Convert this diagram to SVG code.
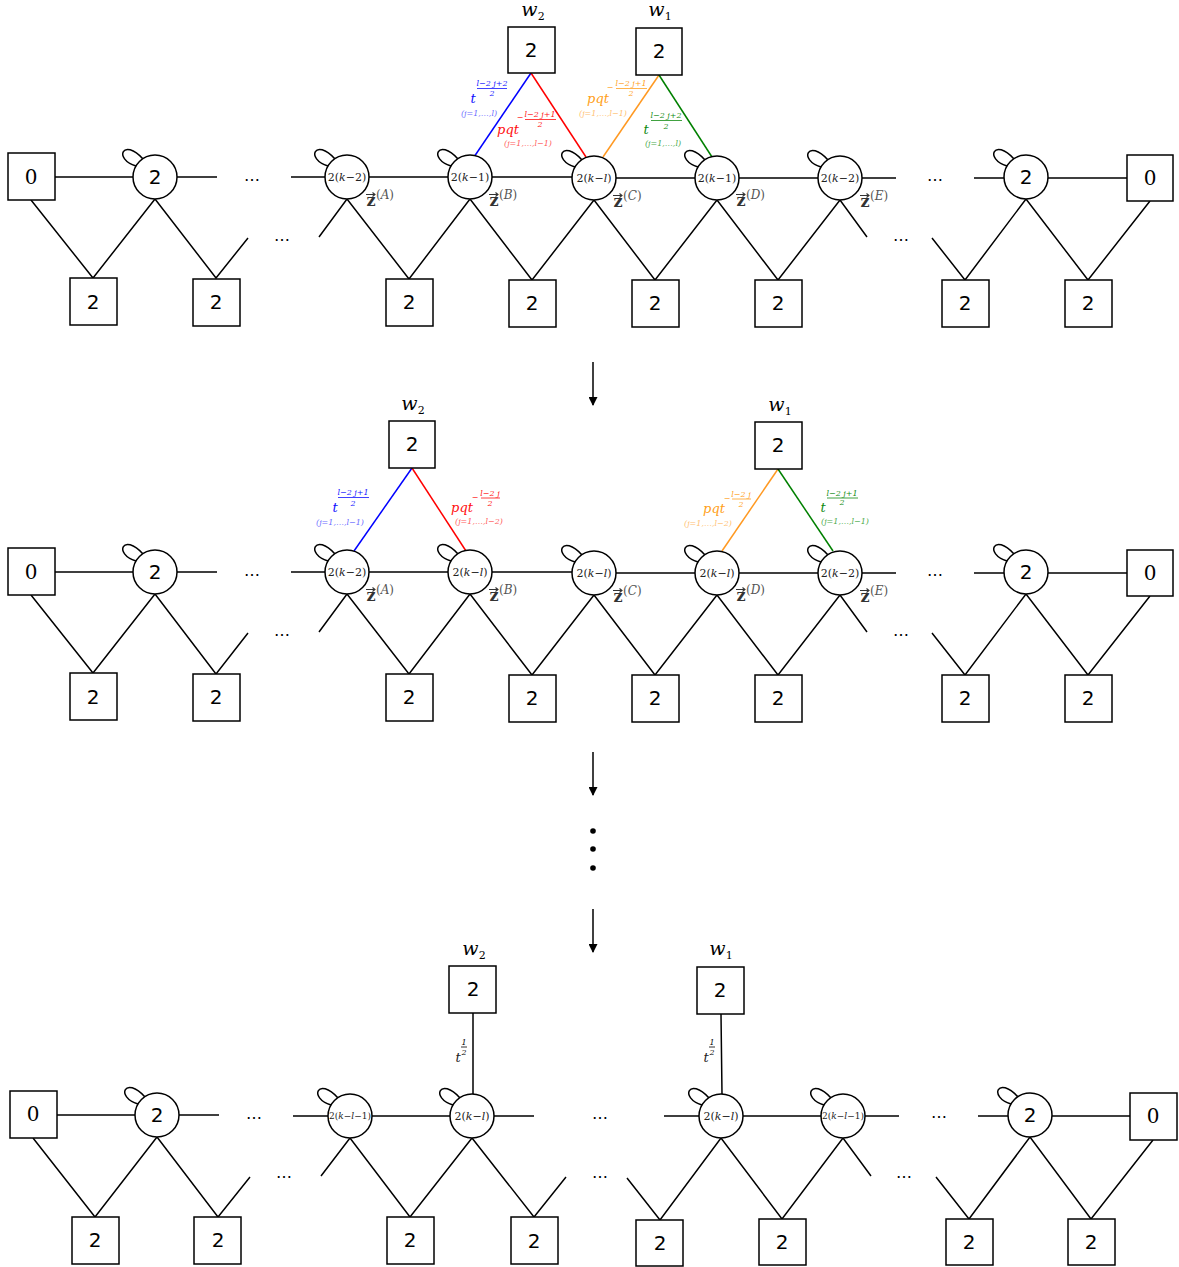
<svg xmlns="http://www.w3.org/2000/svg" width="1179" height="1267" viewBox="0 0 1179 1267">
<style>
.bx{fill:#fff;stroke:#000;stroke-width:1.5}
.ci{fill:#fff;stroke:#000;stroke-width:1.5}
.lp{fill:none;stroke:#000;stroke-width:1.5}
.ln{stroke:#000;stroke-width:1.5;fill:none}
.big{font-family:"DejaVu Sans",sans-serif;font-size:20px;text-anchor:middle;dominant-baseline:central}
.zero{font-family:"DejaVu Serif",serif;font-size:20px;text-anchor:middle;dominant-baseline:central}
.nl{font-family:"DejaVu Serif",serif;font-size:11px;text-anchor:middle;dominant-baseline:central;fill:#222}
.nls{font-family:"DejaVu Serif",serif;font-size:9px;text-anchor:middle;dominant-baseline:central;fill:#222}
.it{font-style:italic}
.w{font-family:"DejaVu Serif",serif;font-size:19px;font-style:italic;text-anchor:middle}
.sub{font-size:11px;font-style:normal}
.dots{font-family:"DejaVu Sans",sans-serif;font-size:16px;text-anchor:middle;dominant-baseline:central}
.z{font-family:"DejaVu Serif",serif;font-size:16px;font-weight:bold;text-anchor:middle;fill:#333}
.zs{font-family:"DejaVu Serif",serif;font-size:12px;fill:#555}
.za{stroke:#333;stroke-width:1.1;fill:none}
.lt{font-family:"DejaVu Serif",serif;font-size:13px;font-style:italic;text-anchor:middle}
.fr{font-family:"DejaVu Serif",serif;font-size:8px;font-style:italic;text-anchor:middle}
.sm{font-family:"DejaVu Serif",serif;font-size:8px;font-style:italic;text-anchor:middle}
.blue{fill:#1010ff}.blueL{fill:#6a6aff}
.red{fill:#ff1010}.redL{fill:#ff5a5a}
.org{fill:#ffa020}.orgL{fill:#ffc070}
.grn{fill:#108a10}.grnL{fill:#4aaa4a}
</style>
<defs>
<marker id="ah" viewBox="0 0 10 10" refX="9" refY="5" markerUnits="userSpaceOnUse" markerWidth="11" markerHeight="9" orient="auto"><path d="M0,0 L10,5 L0,10 z" fill="#000"/></marker>
</defs>

<!-- ================= connectors ================= -->
<g id="connectors">
<!-- panel 1 -->
<path class="ln" d="M55,177 H133 M177,177 H217 M291,177 H325 M369,177 H448 M492,177 H572 M616,178 H695 M739,178 H818 M862,178 H896 M974,178 H1004 M1048,178 H1127"/>
<path class="ln" d="M31,200 L93,278 L155,199 L216,278 L248,238 M319,237 L347,199 L409,279 L470,199 L532,280 L594,200 L655,280 L717,200 L778,280 L840,200 L867,237 M932,238 L965,280 L1026,199 L1088,280 L1150,201"/>
<path d="M531,73 L474,157" stroke="#0000ff" stroke-width="1.5"/>
<path d="M531,73 L586,157" stroke="#ff0000" stroke-width="1.5"/>
<path d="M659,75 L603,157" stroke="#ff9922" stroke-width="1.5"/>
<path d="M659,75 L712,157" stroke="#008000" stroke-width="1.5"/>
<!-- panel 2 -->
<path class="ln" d="M55,572 H133 M177,572 H217 M291,572 H325 M369,572 H448 M492,572 H572 M616,573 H695 M739,573 H818 M862,573 H896 M974,573 H1004 M1048,573 H1127"/>
<path class="ln" d="M31,595 L93,673 L155,594 L216,674 L248,633 M319,632 L347,594 L409,674 L470,594 L532,675 L594,595 L655,675 L717,595 L778,675 L840,595 L867,632 M932,633 L965,675 L1026,594 L1088,675 L1150,596"/>
<path d="M412,468 L354,551" stroke="#0000ff" stroke-width="1.5"/>
<path d="M412,468 L466,551" stroke="#ff0000" stroke-width="1.5"/>
<path d="M778,469 L722,551" stroke="#ff9922" stroke-width="1.5"/>
<path d="M778,469 L833,551" stroke="#008000" stroke-width="1.5"/>
<!-- panel 3 -->
<path class="ln" d="M57,1115 H135 M179,1115 H219 M293,1116 H328 M372,1116 H450 M494,1116 H534 M664,1116 H699 M743,1116 H821 M865,1116 H899 M978,1116 H1008 M1052,1116 H1130"/>
<path class="ln" d="M33,1138 L95,1217 L157,1137 L218,1217 L250,1177 M321,1176 L350,1138 L410,1217 L472,1138 L534,1217 L566,1177 M627,1178 L660,1220 L721,1138 L782,1219 L843,1138 L871,1176 M936,1177 L969,1219 L1030,1137 L1091,1219 L1153,1140"/>
<path class="ln" d="M473,1013 L473,1094 M721,1014 L722,1094"/>
<!-- transition arrows -->
<path class="ln" d="M593,362 V405" stroke-width="2.2" marker-end="url(#ah)"/>
<path class="ln" d="M593,752 V795" stroke-width="2.2" marker-end="url(#ah)"/>
<path class="ln" d="M593,909 V952" stroke-width="2.2" marker-end="url(#ah)"/>
</g>

<circle cx="593" cy="831" r="2.8" fill="#000"/>
<circle cx="593" cy="849" r="2.8" fill="#000"/>
<circle cx="593" cy="868" r="2.8" fill="#000"/>

<!-- ================= panel 1 nodes ================= -->
<g id="p1-left0"><rect class="bx" x="8" y="153" width="47" height="47"/><text class="zero" x="31" y="177">0</text></g>
<g id="p1-c1"><path class="lp" d="M136,166 C113,159 123,137 143,159"/><circle class="ci" cx="155" cy="177" r="22"/><text class="big" x="155" y="177">2</text></g>
<text class="dots" x="252" y="175">…</text>
<text class="dots" x="282" y="235">…</text>
<g id="p1-A"><path class="lp" d="M328,166 C305,159 315,137 335,159"/><circle class="ci" cx="347" cy="177" r="22"/><text class="nl" x="347" y="177">2(<tspan class="it">k</tspan>−2)</text>
<path class="za" d="M366,194.5 h9 m-2.5,-2 l2.5,2 l-2.5,2"/><text class="z" x="371" y="206">z</text><text class="zs" x="376" y="199">(<tspan class="it">A</tspan>)</text></g>
<g id="p1-B"><path class="lp" d="M451,166 C428,159 438,137 458,159"/><circle class="ci" cx="470" cy="177" r="22"/><text class="nl" x="470" y="177">2(<tspan class="it">k</tspan>−1)</text>
<path class="za" d="M489,194.5 h9 m-2.5,-2 l2.5,2 l-2.5,2"/><text class="z" x="494" y="206">z</text><text class="zs" x="499" y="199">(<tspan class="it">B</tspan>)</text></g>
<g id="p1-C"><path class="lp" d="M575,167 C552,160 562,138 582,160"/><circle class="ci" cx="594" cy="178" r="22"/><text class="nl" x="594" y="178">2(<tspan class="it">k</tspan>−<tspan class="it">l</tspan>)</text>
<path class="za" d="M613,195.5 h9 m-2.5,-2 l2.5,2 l-2.5,2"/><text class="z" x="618" y="207">z</text><text class="zs" x="623" y="200">(<tspan class="it">C</tspan>)</text></g>
<g id="p1-D"><path class="lp" d="M698,167 C675,160 685,138 705,160"/><circle class="ci" cx="717" cy="178" r="22"/><text class="nl" x="717" y="178">2(<tspan class="it">k</tspan>−1)</text>
<path class="za" d="M736,194.5 h9 m-2.5,-2 l2.5,2 l-2.5,2"/><text class="z" x="741" y="206">z</text><text class="zs" x="746" y="199">(<tspan class="it">D</tspan>)</text></g>
<g id="p1-E"><path class="lp" d="M821,167 C798,160 808,138 828,160"/><circle class="ci" cx="840" cy="178" r="22"/><text class="nl" x="840" y="178">2(<tspan class="it">k</tspan>−2)</text>
<path class="za" d="M860,195.5 h9 m-2.5,-2 l2.5,2 l-2.5,2"/><text class="z" x="865" y="207">z</text><text class="zs" x="870" y="200">(<tspan class="it">E</tspan>)</text></g>
<text class="dots" x="935" y="175">…</text>
<text class="dots" x="901" y="235">…</text>
<g id="p1-c2"><path class="lp" d="M1007,166 C984,159 994,137 1014,159"/><circle class="ci" cx="1026" cy="177" r="22"/><text class="big" x="1026" y="177">2</text></g>
<g id="p1-right0"><rect class="bx" x="1127" y="155" width="46" height="46"/><text class="zero" x="1150" y="178">0</text></g>
<g id="p1-b1"><rect class="bx" x="70" y="278" width="47" height="47"/><text class="big" x="93" y="302">2</text></g>
<g id="p1-b2"><rect class="bx" x="193" y="279" width="47" height="47"/><text class="big" x="216" y="302">2</text></g>
<g id="p1-b3"><rect class="bx" x="386" y="279" width="47" height="47"/><text class="big" x="409" y="302">2</text></g>
<g id="p1-b4"><rect class="bx" x="509" y="280" width="47" height="47"/><text class="big" x="532" y="303">2</text></g>
<g id="p1-b5"><rect class="bx" x="632" y="280" width="47" height="47"/><text class="big" x="655" y="303">2</text></g>
<g id="p1-b6"><rect class="bx" x="755" y="280" width="47" height="47"/><text class="big" x="778" y="303">2</text></g>
<g id="p1-b7"><rect class="bx" x="942" y="280" width="47" height="47"/><text class="big" x="965" y="303">2</text></g>
<g id="p1-b8"><rect class="bx" x="1065" y="280" width="47" height="47"/><text class="big" x="1088" y="303">2</text></g>
<g id="p1-w2"><rect class="bx" x="508" y="27" width="47" height="46"/><text class="big" x="531" y="50">2</text><text class="w" x="533" y="16">w<tspan class="sub" dy="4">2</tspan></text></g>
<g id="p1-w1"><rect class="bx" x="636" y="28" width="46" height="47"/><text class="big" x="659" y="51">2</text><text class="w" x="660" y="16">w<tspan class="sub" dy="4">1</tspan></text></g>

<!-- panel 1 edge labels -->
<g id="p1-lbl-blue">
<text class="lt blue" x="473" y="103">t</text>
<text class="fr blue" x="492" y="86">l−2 j+2</text><path d="M477,88.5 H507" stroke="#1010ff" stroke-width="0.8"/><text class="fr blue" x="492" y="96" font-style="normal">2</text>
<text class="sm blueL" x="479" y="116">(j=1,…,l)</text>
</g>
<g id="p1-lbl-red">
<text class="lt red" x="508" y="134">pqt</text>
<text class="fr red" x="520" y="120" font-style="normal">−</text>
<text class="fr red" x="540" y="117">l−2 j+1</text><path d="M525,119.5 H556" stroke="#ff1010" stroke-width="0.8"/><text class="fr red" x="540" y="127" font-style="normal">2</text>
<text class="sm redL" x="528" y="146">(j=1,…,l−1)</text>
</g>
<g id="p1-lbl-org">
<text class="lt org" x="598" y="103">pqt</text>
<text class="fr org" x="610" y="90" font-style="normal">−</text>
<text class="fr org" x="631" y="86">l−2 j+1</text><path d="M616,88.5 H647" stroke="#ffa020" stroke-width="0.8"/><text class="fr org" x="631" y="96" font-style="normal">2</text>
<text class="sm orgL" x="603" y="116">(j=1,…,l−1)</text>
</g>
<g id="p1-lbl-grn">
<text class="lt grn" x="646" y="134">t</text>
<text class="fr grn" x="666" y="118">l−2 j+2</text><path d="M651,120.5 H682" stroke="#108a10" stroke-width="0.8"/><text class="fr grn" x="666" y="129" font-style="normal">2</text>
<text class="sm grnL" x="663" y="146">(j=1,…,l)</text>
</g>

<!-- ================= panel 2 nodes ================= -->
<g id="p2-left0"><rect class="bx" x="8" y="548" width="47" height="47"/><text class="zero" x="31" y="572">0</text></g>
<g id="p2-c1"><path class="lp" d="M136,561 C113,554 123,532 143,554"/><circle class="ci" cx="155" cy="572" r="22"/><text class="big" x="155" y="572">2</text></g>
<text class="dots" x="252" y="570">…</text>
<text class="dots" x="282" y="630">…</text>
<g id="p2-A"><path class="lp" d="M328,561 C305,554 315,532 335,554"/><circle class="ci" cx="347" cy="572" r="22"/><text class="nl" x="347" y="572">2(<tspan class="it">k</tspan>−2)</text>
<path class="za" d="M366,589.5 h9 m-2.5,-2 l2.5,2 l-2.5,2"/><text class="z" x="371" y="601">z</text><text class="zs" x="376" y="594">(<tspan class="it">A</tspan>)</text></g>
<g id="p2-B"><path class="lp" d="M451,561 C428,554 438,532 458,554"/><circle class="ci" cx="470" cy="572" r="22"/><text class="nl" x="470" y="572">2(<tspan class="it">k</tspan>−<tspan class="it">l</tspan>)</text>
<path class="za" d="M489,589.5 h9 m-2.5,-2 l2.5,2 l-2.5,2"/><text class="z" x="494" y="601">z</text><text class="zs" x="499" y="594">(<tspan class="it">B</tspan>)</text></g>
<g id="p2-C"><path class="lp" d="M575,562 C552,555 562,533 582,555"/><circle class="ci" cx="594" cy="573" r="22"/><text class="nl" x="594" y="573">2(<tspan class="it">k</tspan>−<tspan class="it">l</tspan>)</text>
<path class="za" d="M613,590.5 h9 m-2.5,-2 l2.5,2 l-2.5,2"/><text class="z" x="618" y="602">z</text><text class="zs" x="623" y="595">(<tspan class="it">C</tspan>)</text></g>
<g id="p2-D"><path class="lp" d="M698,562 C675,555 685,533 705,555"/><circle class="ci" cx="717" cy="573" r="22"/><text class="nl" x="717" y="573">2(<tspan class="it">k</tspan>−<tspan class="it">l</tspan>)</text>
<path class="za" d="M736,589.5 h9 m-2.5,-2 l2.5,2 l-2.5,2"/><text class="z" x="741" y="601">z</text><text class="zs" x="746" y="594">(<tspan class="it">D</tspan>)</text></g>
<g id="p2-E"><path class="lp" d="M821,562 C798,555 808,533 828,555"/><circle class="ci" cx="840" cy="573" r="22"/><text class="nl" x="840" y="573">2(<tspan class="it">k</tspan>−2)</text>
<path class="za" d="M860,590.5 h9 m-2.5,-2 l2.5,2 l-2.5,2"/><text class="z" x="865" y="602">z</text><text class="zs" x="870" y="595">(<tspan class="it">E</tspan>)</text></g>
<text class="dots" x="935" y="570">…</text>
<text class="dots" x="901" y="630">…</text>
<g id="p2-c2"><path class="lp" d="M1007,561 C984,554 994,532 1014,554"/><circle class="ci" cx="1026" cy="572" r="22"/><text class="big" x="1026" y="572">2</text></g>
<g id="p2-right0"><rect class="bx" x="1127" y="550" width="46" height="46"/><text class="zero" x="1150" y="573">0</text></g>
<g id="p2-b1"><rect class="bx" x="70" y="673" width="47" height="47"/><text class="big" x="93" y="697">2</text></g>
<g id="p2-b2"><rect class="bx" x="193" y="674" width="47" height="47"/><text class="big" x="216" y="697">2</text></g>
<g id="p2-b3"><rect class="bx" x="386" y="674" width="47" height="47"/><text class="big" x="409" y="697">2</text></g>
<g id="p2-b4"><rect class="bx" x="509" y="675" width="47" height="47"/><text class="big" x="532" y="698">2</text></g>
<g id="p2-b5"><rect class="bx" x="632" y="675" width="47" height="47"/><text class="big" x="655" y="698">2</text></g>
<g id="p2-b6"><rect class="bx" x="755" y="675" width="47" height="47"/><text class="big" x="778" y="698">2</text></g>
<g id="p2-b7"><rect class="bx" x="942" y="675" width="47" height="47"/><text class="big" x="965" y="698">2</text></g>
<g id="p2-b8"><rect class="bx" x="1065" y="675" width="47" height="47"/><text class="big" x="1088" y="698">2</text></g>
<g id="p2-w2"><rect class="bx" x="389" y="421" width="46" height="47"/><text class="big" x="412" y="444">2</text><text class="w" x="413" y="410">w<tspan class="sub" dy="4">2</tspan></text></g>
<g id="p2-w1"><rect class="bx" x="755" y="422" width="47" height="47"/><text class="big" x="778" y="445">2</text><text class="w" x="780" y="411">w<tspan class="sub" dy="4">1</tspan></text></g>

<!-- panel 2 edge labels -->
<g id="p2-lbl-blue">
<text class="lt blue" x="335" y="512">t</text>
<text class="fr blue" x="353" y="495">l−2 j+1</text><path d="M338,497.5 H369" stroke="#1010ff" stroke-width="0.8"/><text class="fr blue" x="353" y="506" font-style="normal">2</text>
<text class="sm blueL" x="340" y="525">(j=1,…,l−1)</text>
</g>
<g id="p2-lbl-red">
<text class="lt red" x="462" y="512">pqt</text>
<text class="fr red" x="475" y="500" font-style="normal">−</text>
<text class="fr red" x="490" y="496">l−2 j</text><path d="M481,498 H500" stroke="#ff1010" stroke-width="0.8"/><text class="fr red" x="490" y="506" font-style="normal">2</text>
<text class="sm redL" x="479" y="524">(j=1,…,l−2)</text>
</g>
<g id="p2-lbl-org">
<text class="lt org" x="714" y="513">pqt</text>
<text class="fr org" x="727" y="501" font-style="normal">−</text>
<text class="fr org" x="741" y="497">l−2 j</text><path d="M732,499 H751" stroke="#ffa020" stroke-width="0.8"/><text class="fr org" x="741" y="507" font-style="normal">2</text>
<text class="sm orgL" x="708" y="526">(j=1,…,l−2)</text>
</g>
<g id="p2-lbl-grn">
<text class="lt grn" x="823" y="512">t</text>
<text class="fr grn" x="842" y="496">l−2 j+1</text><path d="M827,498 H858" stroke="#108a10" stroke-width="0.8"/><text class="fr grn" x="842" y="505" font-style="normal">2</text>
<text class="sm grnL" x="845" y="524">(j=1,…,l−1)</text>
</g>

<!-- ================= panel 3 nodes ================= -->
<g id="p3-left0"><rect class="bx" x="10" y="1091" width="47" height="47"/><text class="zero" x="33" y="1114">0</text></g>
<g id="p3-c1"><path class="lp" d="M138,1104 C115,1097 125,1075 145,1097"/><circle class="ci" cx="157" cy="1115" r="22"/><text class="big" x="157" y="1115">2</text></g>
<text class="dots" x="254" y="1113">…</text>
<text class="dots" x="284" y="1172">…</text>
<g id="p3-n1"><path class="lp" d="M331,1105 C308,1098 318,1076 338,1098"/><circle class="ci" cx="350" cy="1116" r="22"/><text class="nls" x="350" y="1116">2(<tspan class="it">k</tspan>−<tspan class="it">l</tspan>−1)</text></g>
<g id="p3-n2"><path class="lp" d="M453,1105 C430,1098 440,1076 460,1098"/><circle class="ci" cx="472" cy="1116" r="22"/><text class="nl" x="472" y="1116">2(<tspan class="it">k</tspan>−<tspan class="it">l</tspan>)</text></g>
<text class="dots" x="600" y="1113">…</text>
<text class="dots" x="600" y="1172">…</text>
<g id="p3-n3"><path class="lp" d="M702,1105 C679,1098 689,1076 709,1098"/><circle class="ci" cx="721" cy="1116" r="22"/><text class="nl" x="721" y="1116">2(<tspan class="it">k</tspan>−<tspan class="it">l</tspan>)</text></g>
<g id="p3-n4"><path class="lp" d="M824,1105 C801,1098 811,1076 831,1098"/><circle class="ci" cx="843" cy="1116" r="22"/><text class="nls" x="843" y="1116">2(<tspan class="it">k</tspan>−<tspan class="it">l</tspan>−1)</text></g>
<text class="dots" x="939" y="1112">…</text>
<text class="dots" x="904" y="1172">…</text>
<g id="p3-c2"><path class="lp" d="M1011,1104 C988,1097 998,1075 1018,1097"/><circle class="ci" cx="1030" cy="1115" r="22"/><text class="big" x="1030" y="1115">2</text></g>
<g id="p3-right0"><rect class="bx" x="1130" y="1093" width="47" height="47"/><text class="zero" x="1153" y="1116">0</text></g>
<g id="p3-b1"><rect class="bx" x="72" y="1217" width="47" height="47"/><text class="big" x="95" y="1240">2</text></g>
<g id="p3-b2"><rect class="bx" x="194" y="1217" width="47" height="47"/><text class="big" x="218" y="1240">2</text></g>
<g id="p3-b3"><rect class="bx" x="387" y="1217" width="47" height="47"/><text class="big" x="410" y="1240">2</text></g>
<g id="p3-b4"><rect class="bx" x="511" y="1217" width="47" height="47"/><text class="big" x="534" y="1241">2</text></g>
<g id="p3-b5"><rect class="bx" x="636" y="1220" width="47" height="46"/><text class="big" x="660" y="1243">2</text></g>
<g id="p3-b6"><rect class="bx" x="759" y="1219" width="47" height="46"/><text class="big" x="782" y="1242">2</text></g>
<g id="p3-b7"><rect class="bx" x="946" y="1219" width="47" height="46"/><text class="big" x="969" y="1242">2</text></g>
<g id="p3-b8"><rect class="bx" x="1068" y="1219" width="47" height="46"/><text class="big" x="1091" y="1242">2</text></g>
<g id="p3-w2"><rect class="bx" x="449" y="966" width="47" height="47"/><text class="big" x="473" y="989">2</text><text class="w" x="474" y="955">w<tspan class="sub" dy="4">2</tspan></text></g>
<g id="p3-w1"><rect class="bx" x="697" y="967" width="47" height="47"/><text class="big" x="720" y="990">2</text><text class="w" x="721" y="955">w<tspan class="sub" dy="4">1</tspan></text></g>
<g id="p3-lbl1"><text class="lt" x="458" y="1062" fill="#222">t</text><text class="fr" x="464" y="1045" font-style="normal">1</text><path d="M461,1047 H467" stroke="#000" stroke-width="0.8"/><text class="fr" x="464" y="1055" font-style="normal">2</text></g>
<g id="p3-lbl2"><text class="lt" x="706" y="1062" fill="#222">t</text><text class="fr" x="712" y="1045" font-style="normal">1</text><path d="M709,1047 H715" stroke="#000" stroke-width="0.8"/><text class="fr" x="712" y="1055" font-style="normal">2</text></g>
</svg>
